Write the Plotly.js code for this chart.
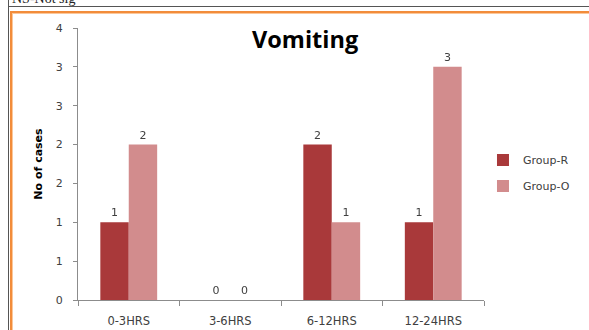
<!DOCTYPE html>
<html>
<head>
<meta charset="utf-8">
<script src="https://cdn.plot.ly/plotly-3.0.1.min.js"></script>
<style>
  html, body { margin: 0; padding: 0; background: #ffffff; }
  #wrap { position: relative; width: 589px; height: 330px; overflow: hidden; background: #ffffff; }
  #chart { position: absolute; left: 0; top: 0; width: 589px; height: 330px; }
  /* keep small value labels neutral grey when rasterised */
  #chart text.bartext { filter: grayscale(100%); }
  .cell-note { position: absolute; left: 12px; top: -9px; font-family: "Liberation Serif", serif; font-size: 14px; color: #222; white-space: nowrap; }
  .rule-top { position: absolute; left: 8px; top: 6px; width: 600px; height: 1px; background: #555; z-index: 5; }
  .rule-left { position: absolute; left: 8px; top: 0; width: 1px; height: 340px; background: #555; z-index: 5; }
  .frame { position: absolute; left: 10px; top: 11px; width: 600px; height: 340px; box-sizing: border-box;
           border-left: 2px solid #F28C3A; border-top: 2px solid #F28C3A;
           box-shadow: inset 1px 1px 0 0 #FBC79A; z-index: 5; pointer-events: none; }
</style>
</head>
<body>
<div id="wrap">
  <div class="cell-note">NS-Not sig</div>
  <div class="rule-top"></div>
  <div class="rule-left"></div>
  <div id="chart"></div>
  <div class="frame"></div>
</div>
<script>
// Time windows after surgery
const categories = ['0-3HRS', '3-6HRS', '6-12HRS', '12-24HRS'];

// Number of cases with vomiting per group
const groupR = [1, 0, 2, 1];
const groupO = [2, 0, 1, 3];

// Y axis ticks every half case; labels are shown rounded to whole numbers
const yTickValues = [0, 0.5, 1, 1.5, 2, 2.5, 3, 3.5];
const yTickLabels = ['0', '1', '1', '2', '2', '3', '3', '4'];

const TEXT_GREY = '#404040';
function labelFont(size) {
  return { family: 'DejaVu Sans, sans-serif', size: size || 11, color: TEXT_GREY };
}

function barTrace(name, values, color, group) {
  return {
    type: 'bar', name: name, x: categories, y: values,
    marker: { color: color },
    text: values.map(String), textposition: 'outside', cliponaxis: false,
    textfont: labelFont(), outsidetextfont: labelFont(), insidetextfont: labelFont(),
    constraintext: 'none',
    legendgroup: group
  };
}

const traces = [
  barTrace('Group-R', groupR, '#A9393A', 'r'),
  barTrace('Group-O', groupO, '#D28C8D', 'o')
];

const layout = {
  width: 589, height: 330,
  margin: { l: 78, r: 105, t: 28, b: 30, pad: 0 },
  font: labelFont(),
  paper_bgcolor: 'rgba(0,0,0,0)',
  plot_bgcolor: '#ffffff',
  barmode: 'group', bargap: 0.44, bargroupgap: 0,
  showlegend: true,
  title: {
    text: '<b>Vomiting</b>',
    font: { family: 'Open Sans, sans-serif', size: 23.5, color: '#000000' },
    xref: 'container', x: 0.518, xanchor: 'center',
    yref: 'container', y: 0.88, yanchor: 'middle'
  },
  xaxis: {
    type: 'category', tickson: 'boundaries',
    ticks: 'outside', ticklen: 5, tickcolor: '#8c8c8c',
    showline: true, linecolor: '#8c8c8c', linewidth: 1,
    showgrid: false, zeroline: false,
    tickfont: labelFont(11.5),
    ticklabelstandoff: 10, fixedrange: true
  },
  yaxis: {
    range: [0, 3.5],
    tickmode: 'array', tickvals: yTickValues, ticktext: yTickLabels,
    ticks: 'outside', ticklen: 4, tickcolor: '#8c8c8c',
    showline: true, linecolor: '#8c8c8c', linewidth: 1,
    showgrid: false, zeroline: false,
    tickfont: labelFont(), ticklabelstandoff: 8,
    title: {
      text: '<b>No of cases</b>',
      font: { family: 'DejaVu Sans, sans-serif', size: 11, color: '#000000' },
      standoff: 10
    },
    fixedrange: true
  },
  legend: {
    x: 0.9975, xanchor: 'left', y: 0.467, yanchor: 'middle',
    font: labelFont(),
    tracegroupgap: 7, bgcolor: 'rgba(0,0,0,0)', borderwidth: 0
  }
};

Plotly.newPlot('chart', traces, layout, { displayModeBar: false, staticPlot: true });
</script>
</body>
</html>
